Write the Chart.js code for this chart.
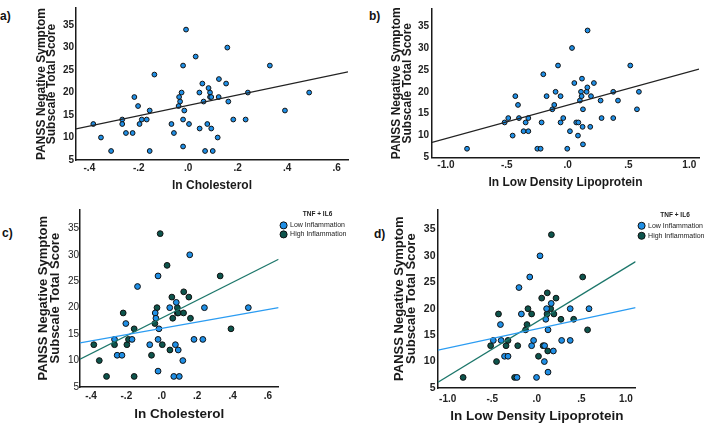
<!DOCTYPE html>
<html>
<head>
<meta charset="utf-8">
<title>PANSS negative symptoms vs lipids</title>
<script src="https://cdn.jsdelivr.net/npm/chart.js@4"></script>
<style>
  body { margin: 0; background: #fff; width: 716px; height: 424px; position: relative; overflow: hidden;
         font-family: "Liberation Sans", Arial, sans-serif; }
  canvas { position: absolute; }
  .tag { position: absolute; font-weight: bold; font-size: 12px; line-height: 14px; color: #111; }
</style>
</head>
<body>
<div class="tag" style="left:0px;top:9px">a)</div>
<div class="tag" style="left:369px;top:9px">b)</div>
<div class="tag" style="left:2px;top:226px">c)</div>
<div class="tag" style="left:374px;top:227px">d)</div>

<canvas id="chartA" width="360" height="200" style="left:0px;top:0px"></canvas>
<canvas id="chartB" width="360" height="200" style="left:356px;top:0px"></canvas>
<canvas id="chartC" width="360" height="224" style="left:0px;top:200px"></canvas>
<canvas id="chartD" width="360" height="224" style="left:356px;top:200px"></canvas>

<script>
    // tick labels
    const scoreTicks = [5, 10, 15, 20, 25, 30, 35];
    const cholTicks = [-0.4, -0.2, 0, 0.2, 0.4, 0.6];
    const ldlTicks = [-1, -0.5, 0, 0.5, 1];

    // ln cholesterol vs PANSS negative score (panels a, c); H = high, L = low inflammation
    const cholX = [-0.384, -0.353, -0.312, -0.267, -0.267, -0.252, -0.225, -0.218, -0.203, -0.197,
                   -0.188, -0.168, -0.156, -0.156, -0.137, -0.068, -0.058, -0.039, -0.037, -0.033,
                   -0.027, -0.021, -0.021, -0.021, -0.016, -0.009, 0.003, 0.030, 0.045, 0.046,
                   0.057, 0.062, 0.068, 0.077, 0.082, 0.088, 0.088, 0.093, 0.093, 0.099,
                   0.119, 0.123, 0.124, 0.153, 0.158, 0.162, 0.182, 0.232, 0.241, 0.330,
                   0.391, 0.489];
    const cholScore = [13, 10, 7, 14, 13, 11, 11, 19, 17, 13,
                       14, 14, 16, 7, 24, 13, 11, 17, 19, 18,
                       20, 26, 14, 8, 16, 34, 13, 28, 20, 12,
                       22, 18, 7, 13, 21, 20, 19, 19, 12, 7,
                       10, 19, 23, 22, 30, 18, 14, 14, 20, 26,
                       16, 20];
    const cholGroup = ['H','H','H','L','H','L','L','H','L','H',
                       'H','L','H','H','L','L','H','H','L','L',
                       'H','L','L','L','L','H','H','H','L','H',
                       'H','H','L','L','L','H','H','H','L','L',
                       'L','H','H','H','L','H','L','L','L','H',
                       'H','L'];

    // ln LDL vs PANSS negative score (panels b, d)
    const ldlX = [-0.827, -0.518, -0.488, -0.452, -0.430, -0.408, -0.400, -0.362, -0.345, -0.323,
                  -0.323, -0.249, -0.222, -0.214, -0.200, -0.173, -0.126, -0.110, -0.099, -0.079,
                  -0.058, -0.058, -0.036, -0.003, 0.019, 0.036, 0.055, 0.071, 0.085, 0.088,
                  0.101, 0.110, 0.115, 0.118, 0.123, 0.126, 0.126, 0.156, 0.162, 0.164,
                  0.186, 0.192, 0.216, 0.271, 0.279, 0.375, 0.375, 0.414, 0.515, 0.570,
                  0.586];
    const ldlScore = [7, 13, 14, 10, 19, 17, 14, 11, 13, 14,
                      11, 7, 7, 13, 24, 19, 16, 17, 20, 26,
                      19, 13, 14, 7, 11, 30, 22, 13, 10, 13,
                      18, 20, 19, 23, 12, 16, 8, 20, 21, 34,
                      12, 19, 22, 18, 14, 20, 14, 18, 26, 16,
                      20];
    const ldlGroup = ['H','H','L','H','H','L','L','L','H','H',
                      'L','H','L','H','L','L','H','H','H','L',
                      'H','L','L','L','H','L','H','H','L','L',
                      'L','L','H','H','H','L','L','H','L','H',
                      'L','H','H','H','L','L','L','H','H','H',
                      'L'];

    // fitted lines, value at the left and right end of each x axis
    const cholRange = [-0.454, 0.646];
    const ldlRange = [-1.115, 1.08];
    const cholRangeGrp = [-0.462, 0.66];
    const ldlRangeGrp = [-1.109, 1.109];
    const fitChol = [11.9, 24.6];
    const fitLdl = [8.45, 25.2];
    const fitCholLow = [13.35, 20.0];
    const fitCholHigh = [10.25, 29.15];
    const fitLdlLow = [12.15, 20.2];
    const fitLdlHigh = [6.1, 28.9];

    const BLUE = '#1f8fe6';
    const GREEN = '#0d544c';
    const BLUE_LINE = '#2b9cf2';
    const GREEN_LINE = '#1d776b';
    const yTitle = ['PANSS Negative Symptom', 'Subscale Total Score'];

    function points(xs, ys, groups, g) {
        const out = [];
        xs.forEach((x, i) => { if (!g || groups[i] === g) out.push({x: x, y: ys[i]}); });
        return out;
    }
    function fitLine(range, ends) {
        return [{x: range[0], y: ends[0]}, {x: range[1], y: ends[1]}];
    }
    function tickText(v) {
        return (v < 0 ? '-' : '') + Math.abs(v).toFixed(1).replace(/^0/, '');
    }
    function lineSet(data, color) {
        return {label: '', data: data, showLine: true, pointRadius: 0, borderColor: color, borderWidth: 1.3, fill: false};
    }
    function dotSet(label, data, color, r) {
        return {label: label, data: data, backgroundColor: color, borderColor: '#111', borderWidth: 1, pointRadius: r};
    }

    function drawPanel(id, p) {
        new Chart(document.getElementById(id), {
            type: 'scatter',
            data: {datasets: p.datasets},
            options: {
                responsive: false,
                animation: false,
                events: [],
                layout: {padding: p.pad},
                plugins: {
                    legend: p.legend || {display: false},
                    tooltip: {enabled: false}
                },
                scales: {
                    x: {
                        type: 'linear', min: p.xRange[0], max: p.xRange[1],
                        grid: {display: false, drawTicks: false},
                        border: {color: '#1a1a1a', width: 1.5},
                        afterBuildTicks: s => { s.ticks = p.xTicks.map(v => ({value: v})); },
                        afterFit: s => { s.height = p.xHeight; },
                        ticks: {padding: p.xTickPad, color: '#222', font: {size: 10, weight: 'bold'},
                                callback: v => tickText(v)},
                        title: {display: true, text: p.xTitle, color: '#1a1a1a',
                                font: {size: p.xTitleSize, weight: 'bold'},
                                padding: {top: 0, bottom: p.xTitlePad}}
                    },
                    y: {
                        type: 'linear', min: 5, max: p.yMax,
                        grid: {display: false, drawTicks: false},
                        border: {color: '#1a1a1a', width: 1.5},
                        afterBuildTicks: s => { s.ticks = scoreTicks.map(v => ({value: v})); },
                        afterFit: s => { s.width = p.yWidth; },
                        ticks: {padding: p.yTickPad, color: '#222', font: p.yTickFont},
                        title: {display: true, text: yTitle, color: '#1a1a1a',
                                font: {size: p.yTitleSize, weight: 'bold', lineHeight: p.yTitleLH},
                                padding: {top: p.yTitlePad, bottom: 0}}
                    }
                }
            }
        });
    }

    function groupLegend(pad, titleTop, titleBottom) {
        return {
            display: true, position: 'right', align: 'start',
            title: {display: true, text: 'TNF + IL6', color: '#222',
                    font: {size: 6.5, weight: 'bold'}, padding: {top: titleTop, bottom: titleBottom}},
            labels: {usePointStyle: true, boxWidth: 6, boxHeight: 5, padding: pad, color: '#222',
                     font: {size: 7}, filter: item => !!item.text}
        };
    }

    // a) ln cholesterol, all participants
    drawPanel('chartA', {
        datasets: [lineSet(fitLine(cholRange, fitChol), '#222'),
                   dotSet('All', points(cholX, cholScore), BLUE, 2.4)],
        pad: {left: 0, right: 12, top: 2, bottom: 0},
        xRange: cholRange, xTicks: cholTicks, xHeight: 40, xTickPad: 2,
        xTitle: 'ln Cholesterol', xTitleSize: 12, xTitlePad: 7,
        yMax: 38.8, yWidth: 76, yTickPad: 2, yTickFont: {size: 10, weight: 'bold'},
        yTitleSize: 12, yTitleLH: 0.86, yTitlePad: 36.5
    });

    // b) ln LDL, all participants
    drawPanel('chartB', {
        datasets: [lineSet(fitLine(ldlRange, fitLdl), '#222'),
                   dotSet('All', points(ldlX, ldlScore), BLUE, 2.4)],
        pad: {left: 0, right: 17, top: 2, bottom: 0},
        xRange: ldlRange, xTicks: ldlTicks, xHeight: 42.5, xTickPad: 1.5,
        xTitle: 'ln Low Density Lipoprotein', xTitleSize: 12, xTitlePad: 10,
        yMax: 38.9, yWidth: 76, yTickPad: 3, yTickFont: {size: 10, weight: 'bold'},
        yTitleSize: 12, yTitleLH: 0.86, yTitlePad: 35.8
    });

    // c) ln cholesterol by inflammation group
    drawPanel('chartC', {
        datasets: [lineSet(fitLine(cholRangeGrp, fitCholLow), BLUE_LINE),
                   lineSet(fitLine(cholRangeGrp, fitCholHigh), GREEN_LINE),
                   dotSet('Low Inflammation', points(cholX, cholScore, cholGroup, 'L'), BLUE, 2.9),
                   dotSet('High Inflammation', points(cholX, cholScore, cholGroup, 'H'), GREEN, 2.9)],
        legend: groupLegend(2, 1.2, 1.6),
        pad: {left: 0, right: 3.5, top: 9.3, bottom: 0},
        xRange: cholRangeGrp, xTicks: cholTicks, xHeight: 37, xTickPad: 3,
        xTitle: 'ln Cholesterol', xTitleSize: 13.5, xTitlePad: 1.6,
        yMax: 38.6, yWidth: 80, yTickPad: 1, yTickFont: {size: 10, weight: 'normal'},
        yTitleSize: 13, yTitleLH: 0.9, yTitlePad: 37.5
    });

    // d) ln LDL by inflammation group
    drawPanel('chartD', {
        datasets: [lineSet(fitLine(ldlRangeGrp, fitLdlLow), BLUE_LINE),
                   lineSet(fitLine(ldlRangeGrp, fitLdlHigh), GREEN_LINE),
                   dotSet('Low Inflammation', points(ldlX, ldlScore, ldlGroup, 'L'), BLUE, 2.9),
                   dotSet('High Inflammation', points(ldlX, ldlScore, ldlGroup, 'H'), GREEN, 2.9)],
        legend: groupLegend(3, 2.2, 0),
        pad: {left: 0, right: 1.5, top: 9.3, bottom: 0},
        xRange: ldlRangeGrp, xTicks: ldlTicks, xHeight: 36, xTickPad: 5,
        xTitle: 'ln Low Density Lipoprotein', xTitleSize: 13.5, xTitlePad: 0,
        yMax: 38.8, yWidth: 82, yTickPad: 2.5, yTickFont: {size: 10.5, weight: 'bold'},
        yTitleSize: 13, yTitleLH: 0.9, yTitlePad: 37.5
    });
</script>
</body>
</html>
